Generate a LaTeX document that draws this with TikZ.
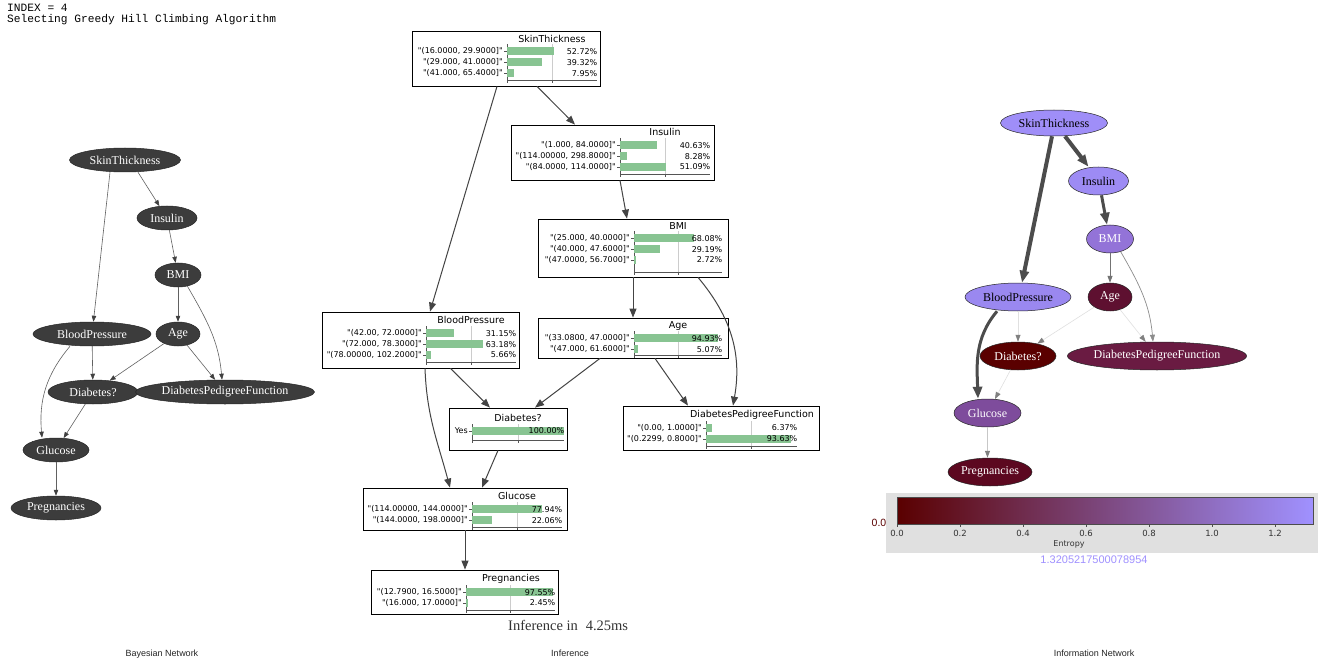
\documentclass[tikz,border=0pt]{standalone}
\usepackage{fontspec}
\setmainfont{Liberation Serif}
\newfontfamily\dvs{DejaVu Sans}
\newfontfamily\lsans{Liberation Sans}
\newfontfamily\lmono{Liberation Mono}
\usetikzlibrary{shapes.geometric,arrows.meta,fit}
\definecolor{lnfill}{HTML}{3C3C3C}
\definecolor{barc}{HTML}{88C492}
\definecolor{axc}{HTML}{555555}
\definecolor{gridc}{HTML}{CCCCCC}
\definecolor{marr}{HTML}{444444}
\definecolor{cmin}{HTML}{5A0000}
\definecolor{cmax}{HTML}{A091FF}
\definecolor{cST}{HTML}{9F8EF8}
\definecolor{cIns}{HTML}{9D8BF4}
\definecolor{cBP}{HTML}{9A88F0}
\definecolor{cBMI}{HTML}{9373D8}
\definecolor{cAge}{HTML}{5E1030}
\definecolor{cDia}{HTML}{5A0000}
\definecolor{cDPF}{HTML}{6A1B42}
\definecolor{cGlu}{HTML}{7E4C9C}
\definecolor{cPreg}{HTML}{5C0820}
\definecolor{cbbg}{HTML}{E0E0E0}
\definecolor{entc}{HTML}{A091FF}
% bar-chart axes: xa, xb, ytop, ybot
\newcommand\baxes[4]{%
  \draw[gridc, line width=0.5pt] ({(#1+#2)/2},#3) -- ({(#1+#2)/2},#4);
  \draw[axc, line width=0.5pt] (#1,#3) -- (#1,#4) -- (#2,#4);
  \draw[axc, line width=0.5pt] (#1,#4) -- (#1,#4+3);
  \draw[axc, line width=0.5pt] ({(#1+#2)/2},#4) -- ({(#1+#2)/2},#4+3);
}
% bar row: name, xa, xb, y, label, value
\newcommand\brow[6]{%
  \fill[barc] (#2,#4-4) rectangle ({#2+(#3-#2)*#6/100},#4+4);
  \draw[axc, line width=0.5pt] (#2-3,#4) -- (#2,#4);
  \node[lab, anchor=east] (#1-l) at (#2-4,#4) {#5};
  \node[lab, anchor=east] (#1-p) at (#3+0.5,#4) {#6\%};
}
\begin{document}
\begin{tikzpicture}[x=1pt,y=-1pt,
  lnode/.style={ellipse, draw=black!85, fill=lnfill, text=white, inner sep=0pt, line width=0.5pt, minimum height=24pt, font=\fontsize{12}{13}\selectfont},
  rnode/.style={ellipse, draw=black!85, inner sep=0pt, line width=0.5pt, minimum height=28pt, font=\fontsize{12}{13}\selectfont},
  larr/.style={draw=black!62, line width=0.6pt, -{Triangle[length=6pt,width=4.5pt,color=black!75]}},
  marrow/.style={draw=marr, line width=1pt, -{Triangle[length=9pt,width=7pt]}},
  rthick/.style={draw=black!70, -{Triangle[length=12pt,width=9pt]}},
  rthin/.style={draw=black!55, line width=0.8pt, -{Triangle[length=7pt,width=5pt]}},
  rlight/.style={draw=black!12, line width=0.6pt, -{Triangle[length=7pt,width=5pt,color=black!50]}},
  ibox/.style={draw=black, line width=0.8pt, inner sep=0pt},
  ttl/.style={font=\dvs\fontsize{9.5}{10}\selectfont, inner sep=0pt},
  lab/.style={font=\dvs\fontsize{8}{9}\selectfont, inner sep=0pt},
  cbt/.style={font=\dvs\fontsize{8.5}{9}\selectfont, inner sep=0pt, text=black!80},
  bl/.style={font=\lsans\fontsize{9}{10}\selectfont, inner sep=0pt, anchor=base, text=black!85},
  mono/.style={font=\lmono\fontsize{11.2}{12}\selectfont, inner sep=0pt, anchor=base west}
]
\useasboundingbox (0,0) rectangle (1319,660);
\fill[white] (0,0) rectangle (1319,660);

% ---------- header ----------
\node[mono] (idx) at (7,11.5) {INDEX = 4};
\node[mono] (alg) at (7,23) {Selecting Greedy Hill Climbing Algorithm};

% ---------- Bayesian network (left) ----------
\node[lnode, minimum width=111pt] (L-st) at (125,160) {SkinThickness};
\node[lnode, minimum width=60pt] (L-ins) at (167,218) {Insulin};
\node[lnode, minimum width=46pt] (L-bmi) at (178,275) {BMI};
\node[lnode, minimum width=118pt] (L-bp) at (92,334) {BloodPressure};
\node[lnode, minimum width=44pt] (L-age) at (178,334) {Age};
\node[lnode, minimum width=90pt] (L-dia) at (93,392) {Diabetes?};
\node[lnode, minimum width=176pt] (L-dpf) at (225,392) {DiabetesPedigreeFunction};
\node[lnode, minimum width=66pt] (L-glu) at (56,450) {Glucose};
\node[lnode, minimum width=90pt] (L-preg) at (56,508) {Pregnancies};

\draw[larr] ([xshift=13pt]L-st.south) -- (L-ins);
\draw[larr] ([xshift=-15pt]L-st.south) -- (L-bp);
\draw[larr] (L-ins) -- (L-bmi);
\draw[larr] (L-bmi) -- (L-age);
\draw[larr] (L-bmi.-50) to[out=-60,in=95] ([xshift=-3pt]L-dpf.north);
\draw[larr] (L-bp) -- (L-dia);
\draw[larr] ([xshift=-22pt]L-bp.south) to[out=-130,in=95] ([xshift=-14pt]L-glu.north);
\draw[larr] (L-age) -- (L-dia);
\draw[larr] (L-age) -- (L-dpf);
\draw[larr] (L-dia) -- (L-glu);
\draw[larr] (L-glu) -- (L-preg);

% ---------- Inference (middle) ----------
\node[ibox, fit={(412,31) (600,86)}] (m-st) {};
\node[ttl] (m-st-t) at (552,38.5) {SkinThickness};
\baxes{507}{597}{44}{80}
\brow{m-st-1}{507}{597}{51.3}{"(16.0000, 29.9000]"}{52.72}
\brow{m-st-2}{507}{597}{62.3}{"(29.000, 41.0000]"}{39.32}
\brow{m-st-3}{507}{597}{73.3}{"(41.000, 65.4000]"}{7.95}

\node[ibox, fit={(511,125) (714,180)}] (m-ins) {};
\node[ttl] (m-ins-t) at (665,132) {Insulin};
\baxes{620}{710}{138}{174}
\brow{m-ins-1}{620}{710}{145.3}{"(1.000, 84.0000]"}{40.63}
\brow{m-ins-2}{620}{710}{156.3}{"(114.00000, 298.8000]"}{8.28}
\brow{m-ins-3}{620}{710}{167}{"(84.0000, 114.0000]"}{51.09}

\node[ibox, fit={(538,219) (728,277)}] (m-bmi) {};
\node[ttl] (m-bmi-t) at (678,226) {BMI};
\baxes{634}{722}{231}{272}
\brow{m-bmi-1}{634}{722}{238.3}{"(25.000, 40.0000]"}{68.08}
\brow{m-bmi-2}{634}{722}{249.3}{"(40.000, 47.6000]"}{29.19}
\brow{m-bmi-3}{634}{722}{260}{"(47.0000, 56.7000]"}{2.72}

\node[ibox, fit={(322,312) (519,368)}] (m-bp) {};
\node[ttl] (m-bp-t) at (471,320) {BloodPressure};
\baxes{426}{516}{326}{362}
\brow{m-bp-1}{426}{516}{333.3}{"(42.00, 72.0000]"}{31.15}
\brow{m-bp-2}{426}{516}{344.3}{"(72.000, 78.3000]"}{63.18}
\brow{m-bp-3}{426}{516}{355}{"(78.00000, 102.2000]"}{5.66}

\node[ibox, fit={(538,318) (728,358)}] (m-age) {};
\node[ttl] (m-age-t) at (678,326) {Age};
\baxes{634}{722}{331}{355}
\brow{m-age-1}{634}{722}{338.3}{"(33.0800, 47.0000]"}{94.93}
\brow{m-age-2}{634}{722}{349.3}{"(47.000, 61.6000]"}{5.07}

\node[ibox, fit={(449,408) (567,450)}] (m-dia) {};
\node[ttl] (m-dia-t) at (518,418) {Diabetes?};
\baxes{472}{564}{424}{440}
\brow{m-dia-1}{472}{564}{431}{Yes}{100.00}

\node[ibox, fit={(623,406) (819,450)}] (m-dpf) {};
\node[ttl] (m-dpf-t) at (752,415) {DiabetesPedigreeFunction};
\baxes{706}{797}{421}{446}
\brow{m-dpf-1}{706}{797}{428}{"(0.00, 1.0000]"}{6.37}
\brow{m-dpf-2}{706}{797}{439}{"(0.2299, 0.8000]"}{93.63}

\node[ibox, fit={(363,488) (567,530)}] (m-glu) {};
\node[ttl] (m-glu-t) at (517,496) {Glucose};
\baxes{472}{562}{502}{527}
\brow{m-glu-1}{472}{562}{509.3}{"(114.00000, 144.0000]"}{77.94}
\brow{m-glu-2}{472}{562}{520.3}{"(144.0000, 198.0000]"}{22.06}

\node[ibox, fit={(371,570) (558,614)}] (m-preg) {};
\node[ttl] (m-preg-t) at (511,579) {Pregnancies};
\baxes{466}{555}{585}{610}
\brow{m-preg-1}{466}{555}{592.3}{"(12.7900, 16.5000]"}{97.55}
\brow{m-preg-2}{466}{555}{603}{"(16.000, 17.0000]"}{2.45}

\draw[marrow] ([xshift=31pt]m-st.south) -- ([xshift=-37.5pt]m-ins.north);
\draw[marrow] ([xshift=-9pt]m-st.south) -- ([xshift=9.5pt]m-bp.north);
\draw[marrow] ([xshift=7.5pt]m-ins.south) -- ([xshift=-6pt]m-bmi.north);
\draw[marrow] (m-bmi.south) -- (m-age.north);
\draw[marrow] ([xshift=65pt]m-bmi.south) to[out=-50,in=80] ([xshift=12pt]m-dpf.north);
\draw[marrow] ([xshift=30pt]m-bp.south) -- ([xshift=-18pt]m-dia.north);
\draw[marrow] ([xshift=4.5pt]m-bp.south) to[out=-88,in=105] ([xshift=-15pt]m-glu.north);
\draw[marrow] ([xshift=-33pt]m-age.south) -- ([xshift=27pt]m-dia.north);
\draw[marrow] ([xshift=22pt]m-age.south) -- ([xshift=-33pt]m-dpf.north);
\draw[marrow] ([xshift=-10pt]m-dia.south) -- ([xshift=17pt]m-glu.north);
\draw[marrow] (m-glu.south) -- (m-glu.south |- m-preg.north);

\node[inner sep=0pt, anchor=base west, font=\fontsize{14.5}{16}\selectfont, text=black!80] (inft) at (508,630) {Inference in\hspace{8pt}4.25ms};

% ---------- Information network (right) ----------
\node[rnode, fill=cST, minimum width=107pt, minimum height=26pt] (r-st) at (1054,123) {SkinThickness};
\node[rnode, fill=cIns, minimum width=60pt] (r-ins) at (1098.5,181) {Insulin};
\node[rnode, fill=cBMI, text=white, minimum width=47pt] (r-bmi) at (1110,239) {BMI};
\node[rnode, fill=cBP, minimum width=106pt] (r-bp) at (1018,297) {BloodPressure};
\node[rnode, fill=cAge, text=white, minimum width=44pt] (r-age) at (1110,297) {Age};
\node[rnode, fill=cDia, text=white, minimum width=76pt] (r-dia) at (1018,356) {Diabetes?};
\node[rnode, fill=cDPF, text=white, minimum width=176pt] (r-dpf) at (1157,356) {DiabetesPedigreeFunction};
\node[rnode, fill=cGlu, text=white, minimum width=67pt] (r-glu) at (987.5,413) {Glucose};
\node[rnode, fill=cPreg, text=white, minimum width=84pt] (r-preg) at (990,472) {Pregnancies};

\draw[rlight] (r-bp.south) -- (r-dia.north);
\draw[rlight] (r-age) -- (r-dia);
\draw[rlight] (r-age) -- (r-dpf);
\draw[rlight] (r-dia) -- (r-glu);
\draw[rlight, draw=black!22, line width=1pt] (r-glu.south) -- (r-glu.south |- r-preg.north);
\draw[rthin] (r-bmi) -- (r-age);
\draw[rthin, draw=black!45, line width=0.7pt] (r-bmi.-50) to[out=-60,in=95] ([xshift=-4pt]r-dpf.north);
\draw[rthick, line width=4pt] ([xshift=11pt]r-st.south) -- ([xshift=-10pt]r-ins.north);
\draw[rthick, line width=4pt] ([xshift=-2pt]r-st.south) -- ([xshift=4pt]r-bp.north);
\draw[rthick, line width=3pt] ([xshift=3pt]r-ins.south) -- ([xshift=-3pt]r-bmi.north);
\draw[rthick, line width=3pt] ([xshift=-21pt]r-bp.south) to[out=-130,in=92] ([xshift=-9.5pt]r-glu.north);

% ---------- colour bar ----------
\fill[cbbg] (886,493) rectangle (1318,553);
\shade[left color=cmin, right color=cmax] (897,497) rectangle (1313,524);
\draw[black!70, line width=0.6pt] (897,497) rectangle (1313,524);
\foreach \v/\t [count=\i] in {0/0.0,0.2/0.2,0.4/0.4,0.6/0.6,0.8/0.8,1.0/1.0,1.2/1.2}{
  \draw[black!70, line width=0.5pt] ({897+315*\v},524) -- ({897+315*\v},527);
  \node[cbt] (cb-\i) at ({897+315*\v},533.5) {\t};
}
\node[cbt, font=\dvs\fontsize{8}{9}\selectfont] (cb-ent) at (1069,544.5) {Entropy};
\node[inner sep=0pt, anchor=east, font=\lsans\fontsize{10.5}{12}\selectfont, text=cmin] (cb-min) at (886.5,522.5) {0.0};
\node[inner sep=0pt, font=\lsans\fontsize{11}{12}\selectfont, text=entc] (cb-max) at (1094,560) {1.3205217500078954};

% ---------- captions ----------
\node[bl] (cap1) at (162,656.5) {Bayesian Network};
\node[bl] (cap2) at (570,656.5) {Inference};
\node[bl] (cap3) at (1094,656.5) {Information Network};
\end{tikzpicture}
\end{document}
